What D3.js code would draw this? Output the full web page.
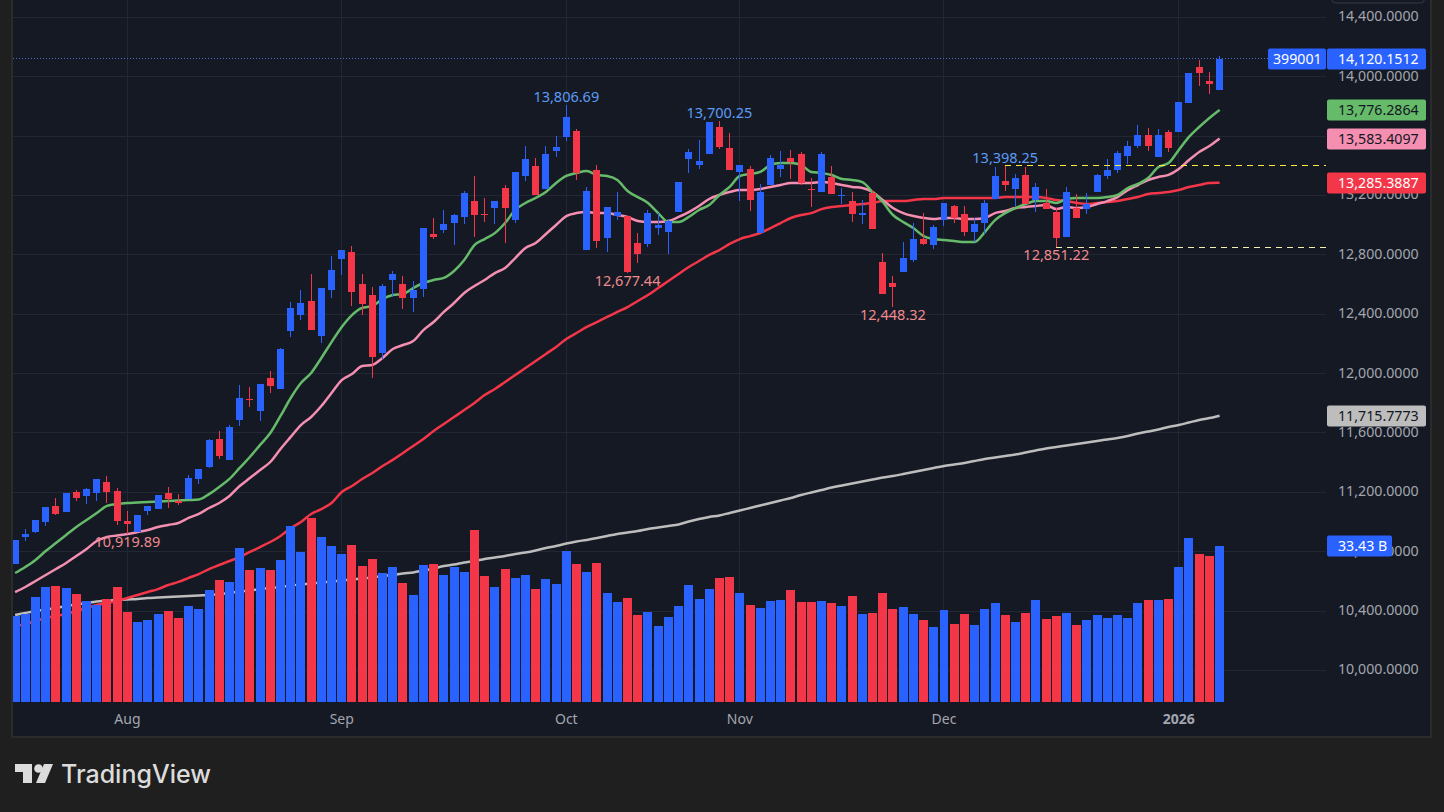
<!DOCTYPE html>
<html>
<head>
<meta charset="utf-8">
<script src="https://cdnjs.cloudflare.com/ajax/libs/d3/7.8.5/d3.min.js"></script>
<style>
  html, body { margin: 0; padding: 0; background: #1f1f1f; overflow: hidden; }
  text { font-family: "Noto Sans", sans-serif; }
</style>
</head>
<body>
<svg id="chart" width="1444" height="812"></svg>
<script>
const opens = [10717,10899,10933,11000,11108,11067,11202,11175,11195,11269,11209,11007,10933,11074,11087,11195,11141,11155,11290,11371,
  11559,11418,11687,11829,11748,11970,11896,12287,12394,12489,12253,12563,12771,12818,12603,12529,12138,12630,12603,12509,
  12570,12940,12967,13014,13054,13162,13075,13115,13250,13034,13331,13398,13243,13499,13594,13634,12832,13371,12913,13061,
  13061,12879,12872,12980,12953,13088,13445,13405,13479,13661,13519,13358,13378,12946,13270,13378,13452,13479,13243,13223,
  13324,13196,13162,13068,13216,12751,12610,12684,12765,12906,12865,13034,13129,13075,12953,13014,13176,13297,13243,13338,
  13169,13149,13088,12919,13115,13108,13223,13331,13371,13466,13533,13607,13459,13627,13627,13823,14065,13971,13910];
const highs = [10879,10953,11013,11101,11162,11195,11215,11229,11290,11310,11229,11074,11047,11108,11182,11236,11188,11317,11357,11559,
  11613,11653,11923,11909,11930,12017,12172,12482,12563,12671,12576,12791,12832,12859,12671,12583,12603,12691,12657,12623,
  12980,13047,13102,13075,13230,13331,13183,13162,13270,13358,13533,13452,13533,13600,13806.69,13647,13257,13405,13122,13223,
  13061,12946,13102,13081,13041,13290,13513,13573,13695,13700.25,13620,13405,13398,13277,13472,13499,13506,13492,13317,13492,
  13398,13250,13223,13169,13236,12812,12657,12886,13014,13081,13000,13149,13135,13129,13047,13169,13391,13398.25,13344,13391,
  13284,13243,13115,13257,13209,13216,13344,13445,13499,13567,13674,13654,13647,13641,13829,14025,14112,14031,14139];
const lows = [10717,10872,10926,10973,11047,11067,11141,11121,11141,11128,10980,10919.89,10933,11047,11087,11094,11114,11155,11256,11364,
  11425,11418,11647,11775,11680,11869,11896,12246,12361,12293,12206,12509,12664,12455,12394,11970,12098,12516,12435,12415,
  12516,12906,12946,12865,13007,12919,13020,13007,12879,13014,13297,13203,13243,13459,13567,13304,12832,12846,12818,13034,
  12677.44,12745,12851,12933,12805,13088,13351,13378,13479,13513,13371,13162,13095,12946,13270,13324,13311,13270,13122,13223,
  13209,13142,13020,13007,12973,12536,12448.32,12684,12751,12865,12839,12994,13014,12926,12886,12940,13176,13230,13129,13142,
  13088,13108,12851.22,12919,13047,13075,13223,13311,13351,13412,13519,13499,13459,13492,13627,13823,13937,13883,13910];
const closes = [10879,10920,11013,11101,11054,11195,11162,11222,11290,11202,11007,10987,11047,11108,11182,11155,11128,11296,11357,11553,
  11445,11640,11835,11822,11930,11916,12165,12442,12475,12293,12576,12698,12832,12549,12469,12111,12590,12671,12509,12563,
  12980,12919,13007,13068,13216,13068,13068,13162,13115,13358,13445,13203,13479,13526,13728,13351,13230,12892,13122,13088,
  12684,12805,13081,13000,13027,13290,13492,13432,13695,13526,13371,13405,13169,13223,13452,13405,13425,13284,13236,13479,
  13209,13203,13075,13081,12973,12536,12583,12778,12906,12872,12987,13149,13047,12953,13007,13149,13331,13270,13317,13142,
  13257,13108,12913,13223,13047,13142,13338,13371,13486,13533,13607,13533,13607,13519,13829,14025,14025,13951,14120.15];

const volumes = [18.43,18.86,22.5,24.64,24.86,24.43,23.14,21.64,20.79,22.07,24.64,19.29,17.14,17.57,18.86,19.5,18.0,20.57,19.93,24.0,
  26.14,25.71,33.0,28.29,28.71,28.29,30.43,37.71,32.14,39.43,35.36,33.43,31.71,33.64,29.14,30.64,27.64,28.93,25.5,22.93,
  29.36,29.57,27.21,28.93,27.86,36.86,27.0,24.64,28.5,26.57,27.21,24.21,26.36,25.29,32.36,29.57,27.86,29.79,23.36,21.43,
  22.29,18.64,19.29,16.29,18.21,20.57,25.07,22.07,24.21,26.57,26.79,23.36,20.79,20.14,21.64,21.86,24.0,21.43,21.43,21.64,
  21.21,20.57,22.71,18.86,19.07,23.36,19.93,20.36,18.86,17.57,16.07,19.71,16.71,18.86,16.5,19.93,21.21,18.64,17.14,19.07,
  21.86,17.79,18.43,19.07,16.5,17.57,18.64,18.0,18.64,18.0,21.21,21.86,21.86,22.07,28.93,35.14,31.71,31.29,33.43];

const maGreen = [10656,10697,10744,10804,10858,10912,10966,11013,11060,11108,11121,11128,11131,11135,11138,11141,11145,11148,11151,11188,
  11236,11290,11364,11438,11519,11599,11714,11835,11936,12004,12105,12212,12314,12394,12442,12455,12502,12529,12536,12576,
  12610,12630,12644,12691,12765,12865,12906,12946,13014,13102,13149,13183,13223,13284,13331,13351,13364,13338,13331,13304,
  13230,13189,13149,13081,13021,13021,13055,13102,13135,13203,13257,13331,13344,13358,13405,13418,13418,13405,13358,13351,
  13338,13311,13304,13290,13223,13156,13068,13021,12980,12926,12906,12899,12893,12886,12886,12953,13034,13081,13115,13142,
  13162,13162,13149,13176,13183,13183,13183,13189,13203,13250,13277,13317,13391,13418,13506,13594,13661,13722,13776.29];
const maPink = [10528,10562,10602,10643,10683,10724,10771,10818,10872,10899,10909,10919,10932,10946,10966,10980,10993,11027,11054,11094,
  11128,11175,11242,11296,11350,11404,11492,11573,11653,11707,11781,11869,11956,11997,12051,12058,12105,12165,12192,12219,
  12293,12347,12415,12475,12543,12590,12630,12677,12711,12778,12846,12879,12940,13001,13061,13081,13088,13081,13081,13068,
  13055,13028,13021,13021,13028,13055,13088,13129,13176,13203,13223,13236,13236,13243,13257,13270,13284,13284,13284,13290,
  13284,13270,13257,13250,13223,13169,13115,13081,13061,13048,13041,13048,13048,13041,13041,13048,13081,13095,13115,13122,
  13129,13135,13108,13122,13115,13122,13142,13162,13189,13236,13270,13304,13324,13338,13378,13439,13493,13533,13583.41];
const maRed = [10299,10313,10333,10353,10367,10380,10400,10420,10441,10454,10468,10488,10508,10528,10548,10575,10596,10623,10649,10683,
  10710,10737,10764,10798,10831,10865,10906,10959,11000,11054,11087,11128,11202,11242,11289,11330,11377,11418,11465,11512,
  11559,11613,11660,11707,11754,11802,11855,11896,11943,11990,12037,12085,12132,12179,12233,12273,12314,12347,12381,12415,
  12448,12489,12529,12576,12623,12671,12718,12758,12799,12832,12873,12906,12926,12947,12980,13014,13048,13068,13081,13108,
  13122,13129,13135,13142,13149,13162,13162,13162,13169,13176,13176,13183,13183,13183,13183,13183,13183,13189,13189,13189,
  13189,13183,13169,13162,13149,13142,13149,13156,13162,13176,13189,13209,13216,13223,13236,13257,13270,13284,13285.39];
const maGrey = [10373,10387,10400,10410,10420,10434,10444,10454,10464,10471,10474,10478,10481,10488,10491,10494,10498,10501,10505,10508,
  10515,10521,10532,10538,10548,10555,10562,10572,10579,10585,10592,10599,10606,10612,10619,10626,10636,10643,10653,10660,
  10673,10687,10703,10713,10727,10737,10751,10761,10771,10784,10794,10808,10825,10838,10855,10869,10879,10892,10906,10919,
  10929,10939,10953,10963,10973,10983,11003,11020,11034,11044,11061,11077,11094,11111,11128,11145,11162,11182,11199,11215,
  11232,11246,11259,11273,11286,11300,11310,11323,11337,11350,11364,11377,11387,11397,11411,11424,11434,11444,11454,11468,
  11482,11495,11505,11515,11525,11535,11546,11556,11566,11579,11596,11609,11623,11640,11653,11670,11687,11700,11715.78];

const priceTicks = [14400,14000,13600,13200,12800,12400,12000,11600,11200,10800,10400,10000];
const monthIndex = [11,32,54,71,91,114];
const monthLabels = ['Aug','Sep','Oct','Nov','Dec','2026'];

const highLabels = [[54,13806.69],[69,13700.25],[97,13398.25]];
const lowLabels = [[60,12677.44],[86,12448.32],[102,12851.22],[11,10919.89]];

const BLUE = '#2962ff', RED = '#f43649', GREEN = '#66bb6a', PINK = '#f48fb1', GREY = '#bdbdbd';
const PANEL = '#151924';

const svg = d3.select('#chart');

// page + chart panel
svg.append('rect').attr('x', 12).attr('y', -4).attr('width', 1419).attr('height', 741)
  .attr('fill', PANEL).attr('stroke', '#2b2b2b').attr('stroke-width', 2);
svg.append('rect').attr('x', 1331.5).attr('y', -10).attr('width', 93).attr('height', 13).attr('rx', 4)
  .attr('fill', PANEL).attr('stroke', '#363a45');

const x = d3.scaleBand().domain(d3.range(opens.length)).range([10, 1224.7]).paddingInner(0.12).paddingOuter(0.06);
const y = d3.scaleLinear().domain([10000, 14400]).range([670.4, 17.3]);
const yVol = d3.scaleLinear().domain([0, 40]).range([702, 515.3]);
const cx = i => x(i) + x.bandwidth() / 2;

svg.append('clipPath').attr('id', 'plot').append('rect')
  .attr('x', 13).attr('y', 0).attr('width', 1313).attr('height', 702);

// grid
const grid = svg.append('g').attr('stroke', '#232733').attr('stroke-width', 1).attr('shape-rendering', 'crispEdges');
grid.selectAll('.h').data(priceTicks).enter().append('line')
  .attr('x1', 13).attr('x2', 1326).attr('y1', d => y(d)).attr('y2', d => y(d));
grid.selectAll('.v').data(monthIndex).enter().append('line')
  .attr('x1', d => cx(d)).attr('x2', d => cx(d)).attr('y1', 0).attr('y2', 702);

const plot = svg.append('g').attr('clip-path', 'url(#plot)');

// moving averages
const line = d3.line().x((d, i) => cx(i)).y(d => y(d)).curve(d3.curveMonotoneX);
[[maGrey, GREY], [maRed, RED], [maPink, PINK], [maGreen, GREEN]].forEach(([s, c]) => {
  plot.append('path').datum(s).attr('d', line).attr('fill', 'none')
    .attr('stroke', c).attr('stroke-width', 2.5).attr('stroke-linejoin', 'round');
});

// volume
plot.append('g').attr('shape-rendering', 'crispEdges')
  .selectAll('.vol').data(volumes).enter().append('rect')
  .attr('x', (d, i) => x(i)).attr('width', x.bandwidth())
  .attr('y', d => yVol(d)).attr('height', d => 702 - yVol(d))
  .attr('fill', (d, i) => closes[i] >= opens[i] ? BLUE : RED);

// candles
const candles = plot.append('g').attr('shape-rendering', 'crispEdges');
candles.selectAll('.wick').data(opens).enter().append('line')
  .attr('x1', (d, i) => cx(i)).attr('x2', (d, i) => cx(i))
  .attr('y1', (d, i) => y(highs[i])).attr('y2', (d, i) => y(lows[i]))
  .attr('stroke', (d, i) => closes[i] >= opens[i] ? BLUE : RED).attr('stroke-width', 1);
candles.selectAll('.body').data(opens).enter().append('rect')
  .attr('x', (d, i) => x(i) + 1).attr('width', x.bandwidth() - 2)
  .attr('y', (d, i) => y(Math.max(opens[i], closes[i])))
  .attr('height', (d, i) => Math.max(1, Math.abs(y(opens[i]) - y(closes[i]))))
  .attr('fill', (d, i) => closes[i] >= opens[i] ? BLUE : RED);

// high / low levels
const levels = svg.append('g').attr('shape-rendering', 'crispEdges');
levels.append('line').attr('x1', cx(97)).attr('x2', 1326).attr('y1', y(13398.25)).attr('y2', y(13398.25))
  .attr('stroke', '#ffeb3b').attr('stroke-dasharray', '6 5');
levels.append('line').attr('x1', cx(102)).attr('x2', 1326).attr('y1', y(12851.22)).attr('y2', y(12851.22))
  .attr('stroke', '#f5efb0').attr('stroke-dasharray', '6 5');
levels.append('line').attr('x1', 13).attr('x2', 1268).attr('y1', y(14120.15)).attr('y2', y(14120.15))
  .attr('stroke', '#4f6fc4').attr('stroke-dasharray', '1 2');

const fmt = d3.format(',.2f');
svg.selectAll('.hi').data(highLabels).enter().append('text')
  .attr('x', d => cx(d[0])).attr('y', d => y(d[1]) - 3).attr('text-anchor', 'middle')
  .attr('font-size', 14.5).attr('fill', '#5b9cf6').text(d => fmt(d[1]));
svg.selectAll('.lo').data(lowLabels).enter().append('text')
  .attr('x', d => cx(d[0])).attr('y', d => y(d[1]) + 13).attr('text-anchor', 'middle')
  .attr('font-size', 14.5).attr('fill', '#f08a8e').text(d => fmt(d[1]));

// axes, 13,600 sits fully behind the pink tag so it gets no label
const yAxis = svg.append('g').attr('transform', 'translate(1326,-1)')
  .call(d3.axisRight(y).tickValues(priceTicks).tickSize(0).tickPadding(12)
    .tickFormat(d => d === 13600 ? '' : d3.format(',.4f')(d)));
yAxis.select('.domain').remove();
yAxis.selectAll('text').attr('font-size', 14.2).attr('fill', '#a3a6af').attr('font-family', '"Noto Sans", sans-serif');

const xAxis = svg.append('g').attr('transform', 'translate(0,703)')
  .call(d3.axisBottom(x).tickValues(monthIndex).tickSize(0).tickPadding(11).tickFormat((d, i) => monthLabels[i]));
xAxis.select('.domain').remove();
xAxis.selectAll('text').attr('font-size', 14).attr('fill', '#a3a6af').attr('font-family', '"Noto Sans", sans-serif')
  .attr('font-weight', d => d === 114 ? 700 : 400);

// price tags on the axis
const tags = [
  [14120.15, '14,120.1512', BLUE, '#ffffff'],
  [13776.29, '13,776.2864', GREEN, '#131722'],
  [13583.41, '13,583.4097', PINK, '#131722'],
  [13285.39, '13,285.3887', RED, '#ffffff'],
  [11715.78, '11,715.7773', GREY, '#131722']
];
tags.forEach(([v, label, bg, fg]) => {
  const cy = Math.round(y(v));
  svg.append('rect').attr('x', 1327).attr('y', cy - 10.5).attr('width', 99).attr('height', 21).attr('rx', 2).attr('fill', bg);
  svg.append('text').attr('x', 1338).attr('y', cy + 5).attr('font-size', 14.2).attr('fill', fg).text(label);
});
const lastY = Math.round(y(14120.15));
svg.append('rect').attr('x', 1268).attr('y', lastY - 10.5).attr('width', 58).attr('height', 21).attr('rx', 2).attr('fill', BLUE);
svg.append('text').attr('x', 1273).attr('y', lastY + 5).attr('font-size', 14.2).attr('fill', '#fff').text('399001');

const volY = Math.round(yVol(33.43));
svg.append('rect').attr('x', 1327).attr('y', volY - 10.5).attr('width', 65).attr('height', 21).attr('rx', 2).attr('fill', BLUE);
svg.append('text').attr('x', 1338).attr('y', volY + 5).attr('font-size', 14.2).attr('fill', '#fff').text('33.43 B');

// brand
const brand = svg.append('g').attr('fill', '#dcdcdc');
brand.append('path').attr('d', 'M15 764H32V783H23V772H15Z');
brand.append('circle').attr('cx', 38.5).attr('cy', 768.5).attr('r', 4.3);
brand.append('path').attr('d', 'M44 764H53L45 783H36Z');
brand.append('text').attr('x', 61).attr('y', 783).attr('font-size', 25).attr('font-weight', 500)
  .attr('style', 'font-family: Inter, sans-serif').text('TradingView');
</script>
</body>
</html>
